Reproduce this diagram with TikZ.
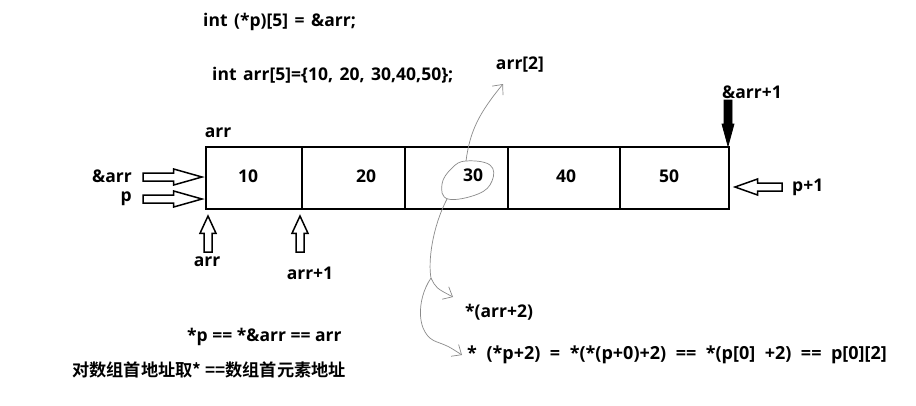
\documentclass[tikz,border=0pt]{standalone}
\usepackage{fontspec}
\setmainfont{Open Sans}[BoldFont={Open Sans Bold}]
\newfontfamily\cjk{Noto Sans CJK SC}[BoldFont={Noto Sans CJK SC Bold}]
\usetikzlibrary{arrows.meta,calc}
\definecolor{pen}{HTML}{8A8A8A}

\tikzset{
  lbl/.style={font=\bfseries\fontsize{17.5}{20}\selectfont,inner sep=0pt},
  box/.style={line width=1.6pt},
  hand/.style={pen,line width=0.7pt,-{Straight Barb[length=8pt,width=14pt]}},
  blockarrow/.pic={
    \draw[line width=1.5pt,line join=miter]
      (0,-4) -- ({0.52*#1},-4) -- ({0.52*#1},-8) -- (#1,0)
      -- ({0.52*#1},8) -- ({0.52*#1},4) -- (0,4) -- cycle;
  }
}

\begin{document}
\begin{tikzpicture}[x=1pt,y=-1pt]
  \useasboundingbox (0,0) rectangle (916,405);

  % declarations
  \node[lbl,anchor=west] (decl) at (203,22) {\spaceskip=6.5pt int (*p)[5] = \&arr;};
  \node[lbl,anchor=west] (init) at (212,75) {\spaceskip=6.5pt int arr[5]=\{10, 20, 30,40,50\};};

  % the array
  \coordinate (tl) at (206,147);
  \coordinate (br) at (729,209);
  \draw[box] (tl) rectangle (br);
  \foreach \x in {302,405,508,620}
    \draw[box] (\x,147) -- (\x,209);
  \node[lbl] (v10) at (248,176) {10};
  \node[lbl] (v20) at (366,176) {20};
  \node[lbl] (v30) at (473,175) {30};
  \node[lbl] (v40) at (566,176) {40};
  \node[lbl] (v50) at (669,176) {50};

  % pointers on the left
  \node[lbl] (arrtop) at (218,133) {arr};
  \node[lbl,anchor=east] (amparr) at (132,176) {\&arr};
  \node[lbl,anchor=east] (pp) at (132,199) {p};
  \pic at (143,177) {blockarrow=59};
  \pic at (143,199) {blockarrow=59};

  % pointers below
  \pic[rotate=90] at (208,252) {blockarrow=36};
  \pic[rotate=90] at (300,252) {blockarrow=36};
  \node[lbl] (arrbot) at (207,262) {arr};
  \node[lbl] (arr1) at (310,273) {arr+1};

  % pointers on the right
  \node[lbl] (amparr1) at (752,92) {\&arr+1};
  \filldraw[line width=0.8pt] (724,100) rectangle (732,124)
    (722,124) -- (734,124) -- (728,146) -- cycle;
  \pic[rotate=180] at (782,187) {blockarrow=47};
  \node[lbl,anchor=west] (p1) at (792,187) {p+1};

  % element 30 and its names
  \node[lbl] (a2) at (520,65) {arr[2]};
  \node[lbl,anchor=west] (deref) at (465,312) {*(arr+2)};
  \node[lbl,anchor=west,font=\bfseries\fontsize{18}{20}\selectfont] (chain) at (467,355)
    {\spaceskip=9.5pt * (*p+2) = *(*(p+0)+2) == *(p[0] +2) == p[0][2]};
  \draw[pen,line width=0.7pt] plot[smooth cycle,tension=0.7] coordinates
    {(466,161) (490,165) (492,181) (478,194) (448,199) (442,184) (452,168)};
  \coordinate (ring) at (466,161);
  \coordinate (ringlow) at (447,199);
  \coordinate (fork) at (431,278);
  \draw[hand] (ring) .. controls (470,130) and (480,112) .. (503,84);
  \draw[hand] (ringlow) .. controls (432,228) and (428,262) .. (fork)
    .. controls (436,288) .. (453,297);
  \draw[hand] (fork) .. controls (416,300) and (416,335) .. (437,342)
    .. controls (448,346) .. (462,355);

  % notes
  \node[lbl,anchor=west] (note1) at (187,337) {*p == *\&arr == arr};
  \node[lbl,anchor=west,font=\cjk\bfseries\fontsize{17.2}{20}\selectfont]
    (note2) at (72,370) {对数组首地址取* ==数组首元素地址};
\end{tikzpicture}
\end{document}
